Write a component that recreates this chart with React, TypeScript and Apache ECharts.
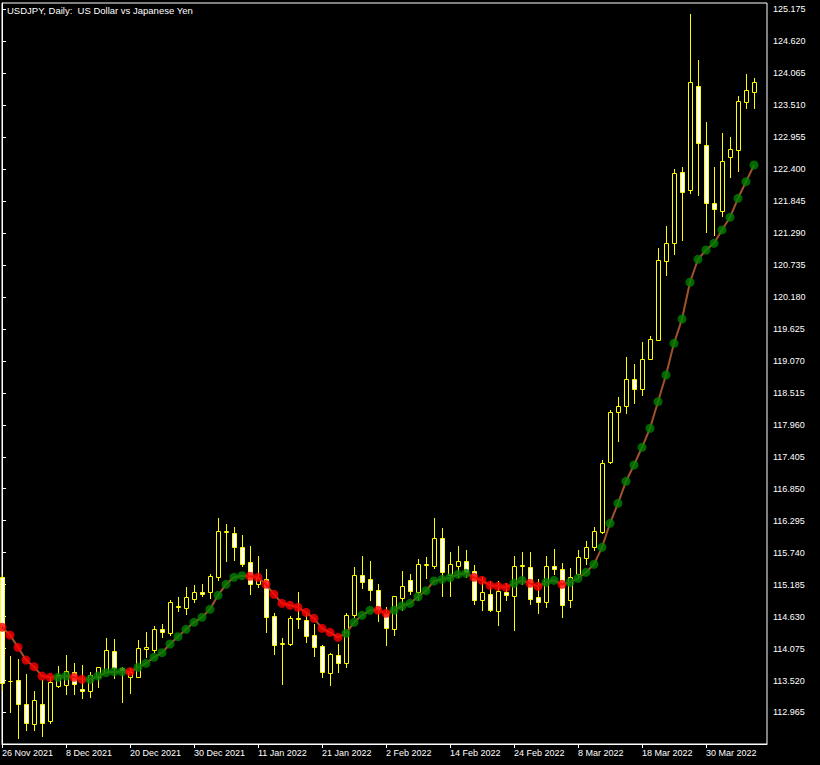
import React, { useEffect, useRef } from "react";
import * as echarts from "echarts";

const TITLE = "USDJPY, Daily:  US Dollar vs Japanese Yen";
const FONT = "Liberation Sans, Arial, sans-serif";

const xTickIndex = [0, 8, 16, 24, 32, 40, 48, 56, 64, 72, 80, 88];
const xTickLabels = [
  "26 Nov 2021", "8 Dec 2021", "20 Dec 2021", "30 Dec 2021", "11 Jan 2022", "21 Jan 2022",
  "2 Feb 2022", "14 Feb 2022", "24 Feb 2022", "8 Mar 2022", "18 Mar 2022", "30 Mar 2022",
];
const yTickLabels = [
  "112.965", "113.520", "114.075", "114.630", "115.185", "115.740", "116.295", "116.850",
  "117.405", "117.960", "118.515", "119.070", "119.625", "120.180", "120.735", "121.290",
  "121.845", "122.400", "122.955", "123.510", "124.065", "124.620", "125.175",
];

const opens = [
  115.32, 113.51, 113.53, 113.12, 112.76, 113.12, 112.81, 113.43, 113.45, 113.67,
  113.37, 113.34, 113.59, 113.67, 114.03, 113.73, 113.58, 113.59, 114.07, 114.05,
  114.41, 114.34, 114.80, 114.78, 114.94, 115.05, 115.05, 115.32, 116.10, 116.09,
  115.83, 115.57, 115.19, 115.28, 114.64, 114.15, 114.15, 114.61, 114.57, 114.31,
  114.12, 113.65, 113.96, 113.83, 114.65, 115.35, 115.28, 115.10, 114.69, 114.41,
  114.96, 115.27, 115.06, 115.53, 115.51, 115.99, 115.35, 115.51, 115.60, 115.43,
  114.91, 115.02, 114.73, 115.05, 114.99, 115.51, 115.49, 114.97, 114.88, 115.50,
  115.45, 114.92, 115.37, 115.64, 115.83, 116.10, 117.32, 118.18, 118.28, 118.76,
  118.59, 119.11, 119.43, 120.81, 121.11, 122.35, 122.03, 123.84, 122.81, 121.82,
  121.68, 122.61, 122.74, 123.56, 123.74,
];
const highs = [
  115.35, 113.95, 113.89, 113.63, 113.33, 113.53, 113.59, 113.77, 113.96, 113.82,
  113.79, 113.67, 113.76, 114.25, 114.24, 113.76, 113.73, 114.22, 114.37, 114.47,
  114.51, 114.92, 114.97, 115.15, 115.18, 115.20, 115.37, 116.34, 116.24, 116.18,
  116.05, 115.86, 115.68, 115.46, 114.69, 114.25, 114.64, 115.05, 114.69, 114.50,
  114.14, 114.00, 114.15, 114.69, 115.49, 115.68, 115.60, 115.20, 114.80, 114.99,
  115.42, 115.37, 115.63, 115.66, 116.34, 116.16, 115.75, 115.86, 115.79, 115.53,
  115.31, 115.24, 115.25, 115.22, 115.68, 115.75, 115.75, 115.28, 115.68, 115.80,
  115.56, 115.47, 115.79, 115.94, 116.18, 117.35, 118.22, 118.45, 119.13, 119.02,
  119.40, 119.50, 121.03, 121.41, 122.41, 122.44, 125.09, 124.30, 123.21, 122.44,
  123.03, 122.96, 123.67, 124.05, 123.99,
];
const lows = [
  113.36, 112.98, 112.53, 112.66, 112.66, 112.55, 112.79, 113.41, 113.29, 113.29,
  113.21, 113.23, 113.41, 113.67, 113.56, 113.14, 113.31, 113.58, 113.93, 114.02,
  114.28, 114.31, 114.72, 114.68, 114.89, 114.99, 114.95, 115.27, 115.60, 115.61,
  115.51, 115.02, 115.14, 114.37, 113.98, 113.46, 114.14, 114.44, 114.19, 113.95,
  113.59, 113.44, 113.66, 113.76, 114.62, 115.12, 114.91, 114.56, 114.14, 114.31,
  114.74, 115.03, 114.92, 115.30, 115.47, 114.99, 114.99, 115.31, 115.31, 114.85,
  114.74, 114.72, 114.48, 114.91, 114.39, 115.20, 114.85, 114.69, 114.79, 115.37,
  114.63, 114.80, 115.34, 115.54, 115.79, 116.08, 117.30, 117.68, 118.16, 118.34,
  118.47, 119.10, 119.43, 120.56, 120.93, 121.17, 121.99, 121.95, 121.30, 121.26,
  121.59, 122.26, 122.36, 123.46, 123.46,
];
const closes = [
  113.48, 113.52, 113.12, 112.78, 113.18, 112.78, 113.49, 113.62, 113.69, 113.46,
  113.33, 113.62, 113.75, 114.05, 113.73, 113.68, 113.67, 114.08, 114.10, 114.41,
  114.36, 114.89, 114.81, 114.97, 115.05, 115.02, 115.34, 116.12, 116.12, 115.84,
  115.54, 115.19, 115.30, 114.63, 114.14, 114.18, 114.60, 114.58, 114.30, 114.11,
  113.67, 113.98, 113.83, 114.66, 115.36, 115.23, 115.10, 114.74, 114.43, 114.98,
  115.17, 115.08, 115.54, 115.55, 115.99, 115.41, 115.54, 115.60, 115.41, 114.91,
  115.05, 114.74, 115.07, 115.01, 115.51, 115.53, 114.94, 114.89, 115.50, 115.46,
  114.84, 115.31, 115.66, 115.84, 116.12, 117.29, 118.19, 118.29, 118.76, 118.59,
  119.10, 119.45, 120.82, 121.11, 122.33, 122.00, 123.91, 122.86, 121.81, 121.70,
  122.54, 122.75, 123.58, 123.77, 123.91,
];
const indicator = [
  114.444, 114.310, 114.097, 113.876, 113.760, 113.598, 113.576, 113.576, 113.598, 113.576,
  113.541, 113.541, 113.598, 113.656, 113.673, 113.673, 113.673, 113.749, 113.819, 113.923,
  114.003, 114.154, 114.281, 114.409, 114.531, 114.618, 114.757, 115.000, 115.191, 115.312,
  115.340, 115.331, 115.312, 115.191, 115.017, 114.861, 114.826, 114.791, 114.705, 114.600,
  114.427, 114.357, 114.270, 114.340, 114.531, 114.652, 114.739, 114.739, 114.687, 114.741,
  114.814, 114.861, 114.975, 115.080, 115.248, 115.278, 115.305, 115.364, 115.382, 115.312,
  115.260, 115.173, 115.156, 115.139, 115.208, 115.260, 115.208, 115.156, 115.225, 115.260,
  115.191, 115.225, 115.295, 115.399, 115.538, 115.833, 116.250, 116.597, 116.979, 117.262,
  117.570, 117.899, 118.361, 118.825, 119.375, 119.797, 120.435, 120.834, 120.995, 121.112,
  121.343, 121.563, 121.893, 122.181, 122.471,
];
// 1 = rising (green dot), -1 = falling (red dot)
const trend = [
  -1, -1, -1, -1, -1, -1, -1, 1, 1, -1,
  -1, 1, 1, 1, 1, 1, -1, 1, 1, 1,
  1, 1, 1, 1, 1, 1, 1, 1, 1, 1,
  1, -1, -1, -1, -1, -1, -1, -1, -1, -1,
  -1, -1, -1, 1, 1, 1, 1, -1, -1, 1,
  1, 1, 1, 1, 1, 1, 1, 1, 1, -1,
  -1, -1, -1, -1, 1, 1, -1, -1, 1, 1,
  -1, 1, 1, 1, 1, 1, 1, 1, 1, 1,
  1, 1, 1, 1, 1, 1, 1, 1, 1, 1,
  1, 1, 1, 1, 1,
];

export default function App() {
  const ref = useRef<HTMLDivElement>(null);

  useEffect(() => {
    if (!ref.current) return;
    const chart = echarts.init(ref.current, null, { renderer: "svg" });
    const yTickValues = yTickLabels.map((s) => Number(s));
    const labelMap: Record<number, string> = {};
    xTickIndex.forEach((v, k) => (labelMap[v] = xTickLabels[k]));

    const candleData = opens.map((o, i) => [i, o, highs[i], lows[i], closes[i]]);
    const lineData = indicator.map((v, i) => [i, v]);
    const dotData = indicator.map((v, i) => ({
      value: [i, v],
      itemStyle: { color: trend[i] > 0 ? "#008000" : "#ff0000" },
    }));

    const option: any = {
      animation: false,
      backgroundColor: "#000000",
      graphic: [
        {
          type: "text",
          left: 7,
          top: 5,
          z: 10,
          silent: true,
          style: {
            text: TITLE,
            fill: "#ffffff",
            fontSize: 9.5,
            fontFamily: FONT,
          },
        },
      ],
      grid: {
        left: 2,
        right: 53,
        top: 3,
        bottom: 21,
        show: true,
        borderColor: "#ffffff",
        borderWidth: 1,
        backgroundColor: "transparent",
        outerBoundsMode: "none",
      },
      xAxis: {
        type: "value",
        min: 0,
        max: 95.625,
        position: "bottom",
        axisLine: { show: true, lineStyle: { color: "#ffffff", width: 1 } },
        axisTick: { show: true, customValues: xTickIndex, length: 4, lineStyle: { color: "#ffffff" } },
        axisLabel: {
          customValues: xTickIndex,
          showMinLabel: true,
          showMaxLabel: true,
          formatter: (v: number) => labelMap[v] ?? "",
          color: "#ffffff",
          fontSize: 9,
          fontFamily: FONT,
          align: "left",
          margin: 4,
        },
        splitLine: { show: false },
      },
      yAxis: {
        type: "value",
        position: "right",
        min: 112.418,
        max: 125.284,
        axisLine: { show: true, lineStyle: { color: "#ffffff", width: 1 } },
        axisTick: { show: true, customValues: yTickValues, length: 4, lineStyle: { color: "#ffffff" } },
        axisLabel: {
          customValues: yTickValues,
          showMinLabel: true,
          showMaxLabel: true,
          formatter: (v: number) => v.toFixed(3),
          color: "#ffffff",
          fontSize: 9,
          fontFamily: FONT,
          margin: 6,
        },
        splitLine: { show: false },
      },
      series: [
        {
          type: "custom",
          z: 1,
          silent: true,
          clip: false,
          data: candleData,
          encode: { x: 0, y: [1, 2, 3, 4] },
          renderItem: (_params: any, api: any) => {
            const i = api.value(0);
            const o = api.value(1);
            const h = api.value(2);
            const l = api.value(3);
            const c = api.value(4);
            const po = api.coord([i, o]);
            const pc = api.coord([i, c]);
            const ph = api.coord([i, h]);
            const pl = api.coord([i, l]);
            const x = Math.round(po[0]) + 0.5;
            const top = Math.round(Math.min(po[1], pc[1])) + 0.5;
            const bot = Math.round(Math.max(po[1], pc[1])) + 0.5;
            const bull = c >= o;
            return {
              type: "group",
              children: [
                {
                  type: "line",
                  shape: { x1: x, y1: Math.round(ph[1]), x2: x, y2: Math.round(pl[1]) + 1 },
                  style: { stroke: "#ffff00", lineWidth: 1 },
                },
                {
                  type: "rect",
                  shape: { x: x - 2, y: top, width: 4, height: bot - top },
                  style: { fill: bull ? "#000000" : "#ffffff", stroke: "#ffff00", lineWidth: 1 },
                },
              ],
            };
          },
        },
        {
          type: "line",
          z: 2,
          silent: true,
          data: lineData,
          showSymbol: false,
          lineStyle: { color: "#a0522d", width: 2 },
        },
        {
          type: "scatter",
          z: 3,
          silent: true,
          data: dotData,
          symbol: "circle",
          symbolSize: 9,
        },
      ],
    };

    chart.setOption(option);
    return () => chart.dispose();
  }, []);

  return (
    <div
      ref={ref}
      style={{ position: "fixed", left: 0, top: 0, width: 820, height: 765, background: "#000" }}
    />
  );
}
